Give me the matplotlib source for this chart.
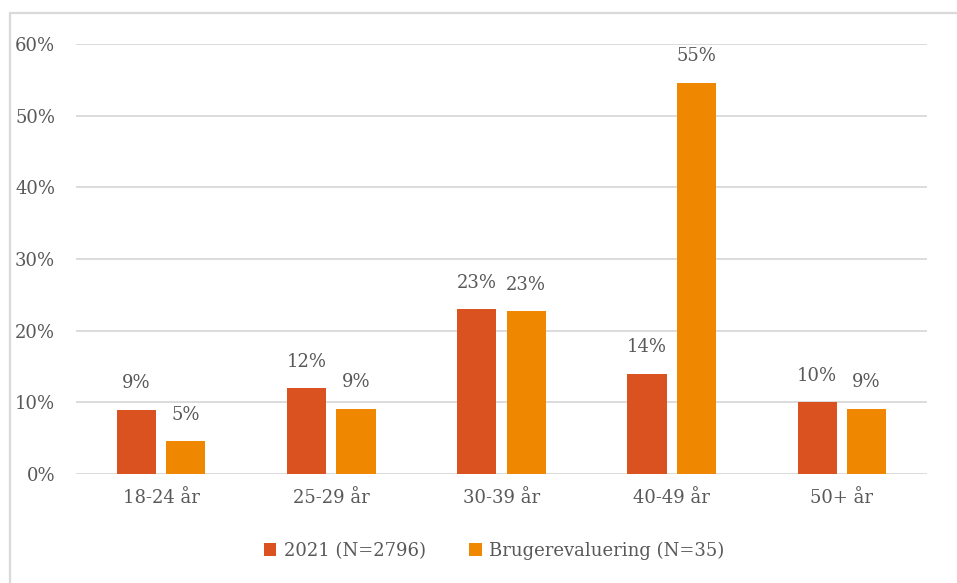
import matplotlib.pyplot as plt
from matplotlib.patches import Rectangle
from matplotlib.ticker import PercentFormatter
import numpy as np

categories = ["18-24 år", "25-29 år", "30-39 år", "40-49 år", "50+ år"]
series_names = ["2021 (N=2796)", "Brugerevaluering (N=35)"]
values_2021 = [0.09, 0.12, 0.23, 0.14, 0.10]
values_bruger = [0.046, 0.091, 0.227, 0.546, 0.091]
colors = ["#DA521F", "#F08700"]

plt.rcParams["font.family"] = ["DejaVu Serif"]
text_color = "#595959"
fs = 13

fig = plt.figure(figsize=(9.57, 5.83), dpi=100)
ax = fig.add_axes([76 / 957, 1 - 474 / 583, (927 - 76) / 957, (474 - 44) / 583])

x = np.arange(len(categories))
width = 0.23
offset = 0.145
for vals, off, col, name in [(values_2021, -offset, colors[0], series_names[0]),
                             (values_bruger, offset, colors[1], series_names[1])]:
    bars = ax.bar(x + off, vals, width, color=col, label=name, zorder=3)
    for b, v in zip(bars, vals):
        ax.annotate(f"{v * 100:.0f}%", (b.get_x() + b.get_width() / 2, v),
                    xytext=(0, 19), textcoords="offset points",
                    ha="center", va="center", fontsize=fs, color=text_color)

ax.set_xlim(-0.5, len(categories) - 0.5)
ax.set_ylim(0, 0.6)
ax.set_yticks(np.arange(0, 0.61, 0.1))
ax.yaxis.set_major_formatter(PercentFormatter(1.0, decimals=0))
ax.set_xticks(x)
ax.set_xticklabels(categories)
ax.tick_params(axis="both", length=0, labelsize=fs, labelcolor=text_color)
ax.tick_params(axis="y", pad=15)
ax.tick_params(axis="x", pad=11)
ax.grid(axis="y", color="#D9D9D9", linewidth=1.3, zorder=0)
for s in ax.spines.values():
    s.set_visible(False)

leg = fig.legend(loc="center", bbox_to_anchor=(494 / 957, 1 - 551 / 583), ncol=2,
                 frameon=False, fontsize=fs, handlelength=0.7, handleheight=0.7,
                 handletextpad=0.4, columnspacing=2.4, labelcolor=text_color)

# outer chart-area frame (only left and top edges fall inside the canvas)
fig.patches.append(Rectangle((9.5 / 957, -0.1), 1.2, 1.1 - 13.5 / 583,
                             transform=fig.transFigure, fill=False,
                             edgecolor="#D9D9D9", linewidth=1.6))

fig.savefig("out.png", dpi=100)
